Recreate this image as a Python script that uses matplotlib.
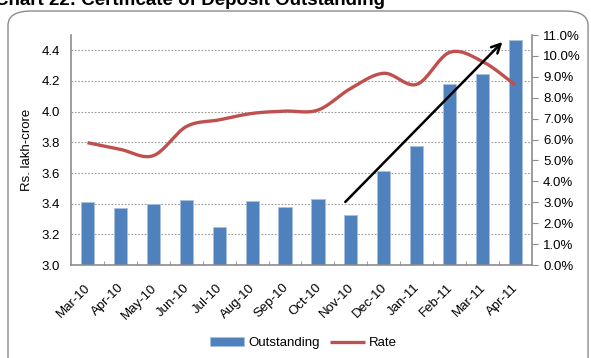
import numpy as np
import matplotlib.pyplot as plt
from matplotlib.patches import FancyBboxPatch
from matplotlib.ticker import FuncFormatter, MultipleLocator
from matplotlib.transforms import ScaledTranslation

plt.rcParams['font.family'] = ['Liberation Sans', 'DejaVu Sans']

months = ['Mar-10', 'Apr-10', 'May-10', 'Jun-10', 'Jul-10', 'Aug-10', 'Sep-10',
          'Oct-10', 'Nov-10', 'Dec-10', 'Jan-11', 'Feb-11', 'Mar-11', 'Apr-11']
outstanding = [3.41, 3.37, 3.40, 3.424, 3.25, 3.417, 3.378,
               3.43, 3.326, 3.613, 3.776, 4.18, 4.246, 4.468]
rate = [5.85, 5.53, 5.23, 6.62, 6.94, 7.25, 7.36,
        7.41, 8.45, 9.17, 8.64, 10.17, 9.73, 8.61]

BLUE = '#4F81BD'
RED = '#C0504D'


def smooth(xs, ys, n=20):
    # Catmull-Rom curve through the points, like a smoothed line chart
    xs = np.asarray(xs, float)
    ys = np.asarray(ys, float)
    px = np.concatenate([[2 * xs[0] - xs[1]], xs, [2 * xs[-1] - xs[-2]]])
    py = np.concatenate([[2 * ys[0] - ys[1]], ys, [2 * ys[-1] - ys[-2]]])
    ox, oy = [], []
    for i in range(1, len(px) - 2):
        t = np.linspace(0, 1, n, endpoint=False)
        for p, out in ((px, ox), (py, oy)):
            p0, p1, p2, p3 = p[i - 1], p[i], p[i + 1], p[i + 2]
            out.extend(0.5 * ((2 * p1) + (-p0 + p2) * t
                              + (2 * p0 - 5 * p1 + 4 * p2 - p3) * t ** 2
                              + (-p0 + 3 * p1 - 3 * p2 + p3) * t ** 3))
    ox.append(xs[-1])
    oy.append(ys[-1])
    return np.array(ox), np.array(oy)


fig = plt.figure(figsize=(5.91, 3.58), dpi=100)

# rounded frame around the chart area
frame = FancyBboxPatch((8 / 591, -0.1), 0.995 - 8 / 591, 1.1 - 11 / 358,
                       boxstyle='round,pad=0,rounding_size=0.04',
                       transform=fig.transFigure, fill=False,
                       edgecolor='#8c8c8c', linewidth=1.0)
fig.patches.append(frame)

fig.text(-0.008, 1 - 5 / 358, 'Chart 22: Certificate of Deposit Outstanding',
         fontsize=13.5, fontweight='bold', ha='left', va='baseline')

ax = fig.add_axes([71 / 591, 1 - 265 / 358, (532 - 71) / 591, (265 - 35) / 358])
x = np.arange(len(months))
ax.bar(x, outstanding, width=0.4, color=BLUE, edgecolor='#a9c1e0', linewidth=0.6,
       label='Outstanding', zorder=2)
ax.set_xlim(-0.5, len(months) - 0.5)
ax.set_ylim(3.0, 4.5)
ax.set_yticks(np.arange(3.0, 4.41, 0.2))
ax.yaxis.set_major_formatter(FuncFormatter(lambda v, p: f'{v:.1f}'))
ax.yaxis.grid(True, linestyle=(0, (1.5, 1.5)), color='#9a9a9a', linewidth=0.8, zorder=0)
ax.set_axisbelow(True)
ax.tick_params(axis='y', length=0, labelsize=9.5, pad=8)
ax.set_ylabel('Rs. lakh-crore', fontsize=9.5, labelpad=6)

ax.set_xticks(x)
ax.set_xticklabels(months, rotation=45, ha='right', rotation_mode='anchor', fontsize=9.5)
ax.tick_params(axis='x', length=0, pad=12)
shift = ScaledTranslation(-3 / 100, 0, fig.dpi_scale_trans)
for lab in ax.get_xticklabels():
    lab.set_transform(lab.get_transform() + shift)
ax.set_xticks(np.arange(0.5, len(months) - 1, 1), minor=True)
ax.tick_params(axis='x', which='minor', direction='in', length=3, color='#8c8c8c')

for s in ['top', 'right']:
    ax.spines[s].set_visible(False)
for s in ['left', 'bottom']:
    ax.spines[s].set_color('#8c8c8c')
    ax.spines[s].set_linewidth(1.2)

ax2 = ax.twinx()
sx, sy = smooth(x, rate)
ax2.plot(sx, sy, color=RED, linewidth=2.4, solid_capstyle='butt', label='Rate', zorder=3)
ax2.set_ylim(0, 11)
ax2.yaxis.set_major_locator(MultipleLocator(1))
ax2.yaxis.set_major_formatter(FuncFormatter(lambda v, p: f'{v:.1f}%'))
ax2.tick_params(axis='y', direction='out', length=4, color='#8c8c8c', labelsize=9.5, pad=4)
for s in ['top', 'left', 'bottom']:
    ax2.spines[s].set_visible(False)
ax2.spines['right'].set_color('#8c8c8c')
ax2.spines['right'].set_linewidth(1.2)

# trend arrow over the recent months
ax2.annotate('', xy=(12.66, 10.76), xytext=(7.77, 2.92),
             arrowprops=dict(arrowstyle='->', color='black', lw=1.8,
                             mutation_scale=16))

h1, l1 = ax.get_legend_handles_labels()
h2, l2 = ax2.get_legend_handles_labels()
fig.legend(h1 + h2, l1 + l2, loc='center', bbox_to_anchor=(0.513, 1 - 343 / 358),
           ncol=2, frameon=False, fontsize=9.5, handlelength=2.6, handletextpad=0.3,
           columnspacing=0.8)

fig.savefig('out.png', dpi=100)
